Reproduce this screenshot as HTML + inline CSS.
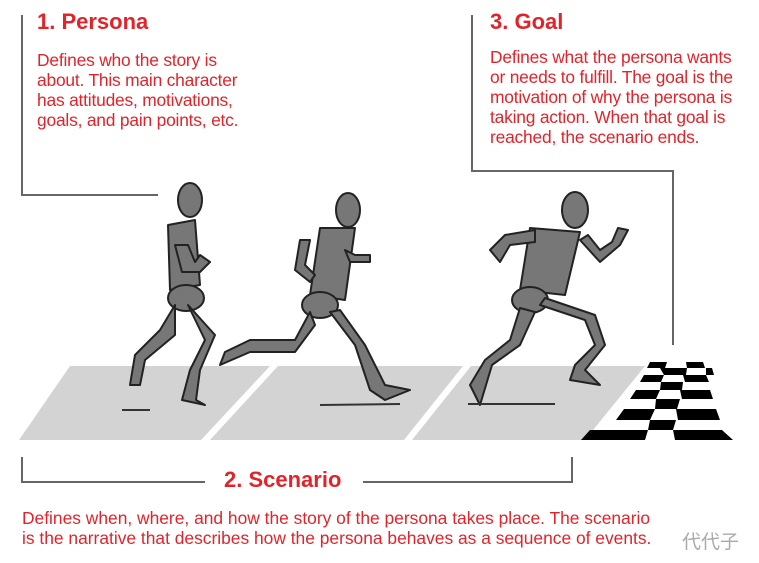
<!DOCTYPE html>
<html><head><meta charset="utf-8"><style>
body{margin:0;width:759px;height:563px;background:#fff;overflow:hidden;position:relative;font-family:"Liberation Sans",Arial,sans-serif;color:#e0242b}
.t{position:absolute;font-weight:bold;font-size:22px;line-height:24px}
.p{position:absolute;font-size:17.4px;line-height:20px;letter-spacing:-0.2px;white-space:nowrap}
</style></head><body>
<svg width="759" height="563" style="position:absolute;left:0;top:0">
<g fill="none" stroke="#666" stroke-width="2">
<polyline points="22,15 22,195 158,195"/>
<polyline points="472,15 472,171 673,171 673,345"/>
<polyline points="22,457 22,482 205,482"/>
<polyline points="363,482 572,482 572,457"/>
</g>
<polygon points="70,366 645,366 585,440 19,440" fill="#d3d3d3"/>
<polygon points="270,366 278,366 210,440 201,440" fill="#fff"/>
<polygon points="463,366 471,366 412,440 404,440" fill="#fff"/>
<g fill="#000">
<polygon points="650,362 667,362 665,368 647,368"/>
<polygon points="686,362 703,362 705,368 687,368"/>
<polygon points="644,375 664,375 661,382 640,382"/>
<polygon points="683,375 706,375 709,382 685,382"/>
<polygon points="636,390 660,390 656,399 630,399"/>
<polygon points="680,390 710,390 713,399 682,399"/>
<polygon points="624,409 655,409 650,420 616,420"/>
<polygon points="676,409 716,409 720,420 678,420"/>
<polygon points="608,430 648,430 645,440 581,440 590,430"/>
<polygon points="673,430 722,430 733,440 675,440"/>
<polygon points="660,368 687,368 686,375 664,375"/>
<polygon points="706,368 712,368 714,375 706,375"/>
<polygon points="661,382 683,382 682,390 660,390"/>
<polygon points="656,399 680,399 677,409 655,409"/>
<polygon points="650,420 676,420 673,430 648,430"/>
</g>
<g fill="#777" stroke="#222" stroke-width="2" stroke-linecap="round" stroke-linejoin="round">
<ellipse cx="190" cy="200" rx="12" ry="17"/>
<path d="M168 225 L195 220 L200 285 L170 290 Z"/>
<ellipse cx="186" cy="298" rx="18" ry="13"/>
<path d="M175 305 L160 330 L135 355 L130 385 L140 385 L145 360 L175 335 Z"/>
<path d="M188 305 L205 340 L190 370 L182 400 L205 405 L196 400 L200 370 L215 335 Z"/>
<path d="M175 245 L182 272 L200 272 L210 262 L200 255 L195 262 L188 245 Z"/>
<ellipse cx="348" cy="210" rx="12" ry="17"/>
<path d="M320 228 L355 228 L345 300 L310 295 Z"/>
<ellipse cx="320" cy="305" rx="18" ry="13"/>
<path d="M310 312 L295 340 L250 340 L225 352 L220 365 L250 352 L295 352 L315 325 Z"/>
<path d="M330 312 L355 345 L370 390 L385 400 L410 390 L385 385 L365 345 L340 310 Z"/>
<path d="M300 240 L295 270 L310 282 L315 275 L305 265 L310 240 Z"/>
<path d="M345 250 L350 262 L370 262 L370 255 L355 255 Z"/>
<ellipse cx="575" cy="210" rx="13" ry="18"/>
<path d="M530 228 L580 232 L565 295 L520 290 Z"/>
<ellipse cx="530" cy="300" rx="18" ry="13"/>
<path d="M520 308 L510 340 L485 360 L470 385 L480 405 L492 365 L520 345 L535 312 Z"/>
<path d="M540 305 L585 320 L595 345 L575 365 L570 380 L600 385 L585 370 L605 345 L595 315 L545 298 Z"/>
<path d="M535 230 L505 235 L490 250 L500 262 L510 245 L535 242 Z"/>
<path d="M580 240 L600 262 L620 245 L628 230 L618 228 L612 242 L600 250 L588 235 Z"/>
</g>
<g stroke="#333" stroke-width="2">
<line x1="122" y1="410" x2="150" y2="410"/>
<line x1="320" y1="405" x2="400" y2="404"/>
<line x1="468" y1="404" x2="555" y2="404"/>
</g>
</svg>
<div class="t" style="left:37px;top:10px">1. Persona</div>
<div class="p" style="left:37px;top:50px">Defines who the story is<br>about. This main character<br>has attitudes, motivations,<br>goals, and pain points, etc.</div>
<div class="t" style="left:490px;top:10px">3. Goal</div>
<div class="p" style="left:490px;top:47px">Defines what the persona wants<br>or needs to fulfill. The goal is the<br>motivation of why the persona is<br>taking action. When that goal is<br>reached, the scenario ends.</div>
<div class="t" style="left:224px;top:468px">2. Scenario</div>
<div class="p" style="left:22px;top:508px;letter-spacing:0">Defines when, where, and how the story of the persona takes place. The scenario<br>is the narrative that describes how the persona behaves as a sequence of events.</div>
<div style="position:absolute;left:682px;top:527px;font-size:19px;color:#aaa;font-family:'Liberation Sans','Noto Sans CJK SC',sans-serif">代代子</div>
</body></html>
